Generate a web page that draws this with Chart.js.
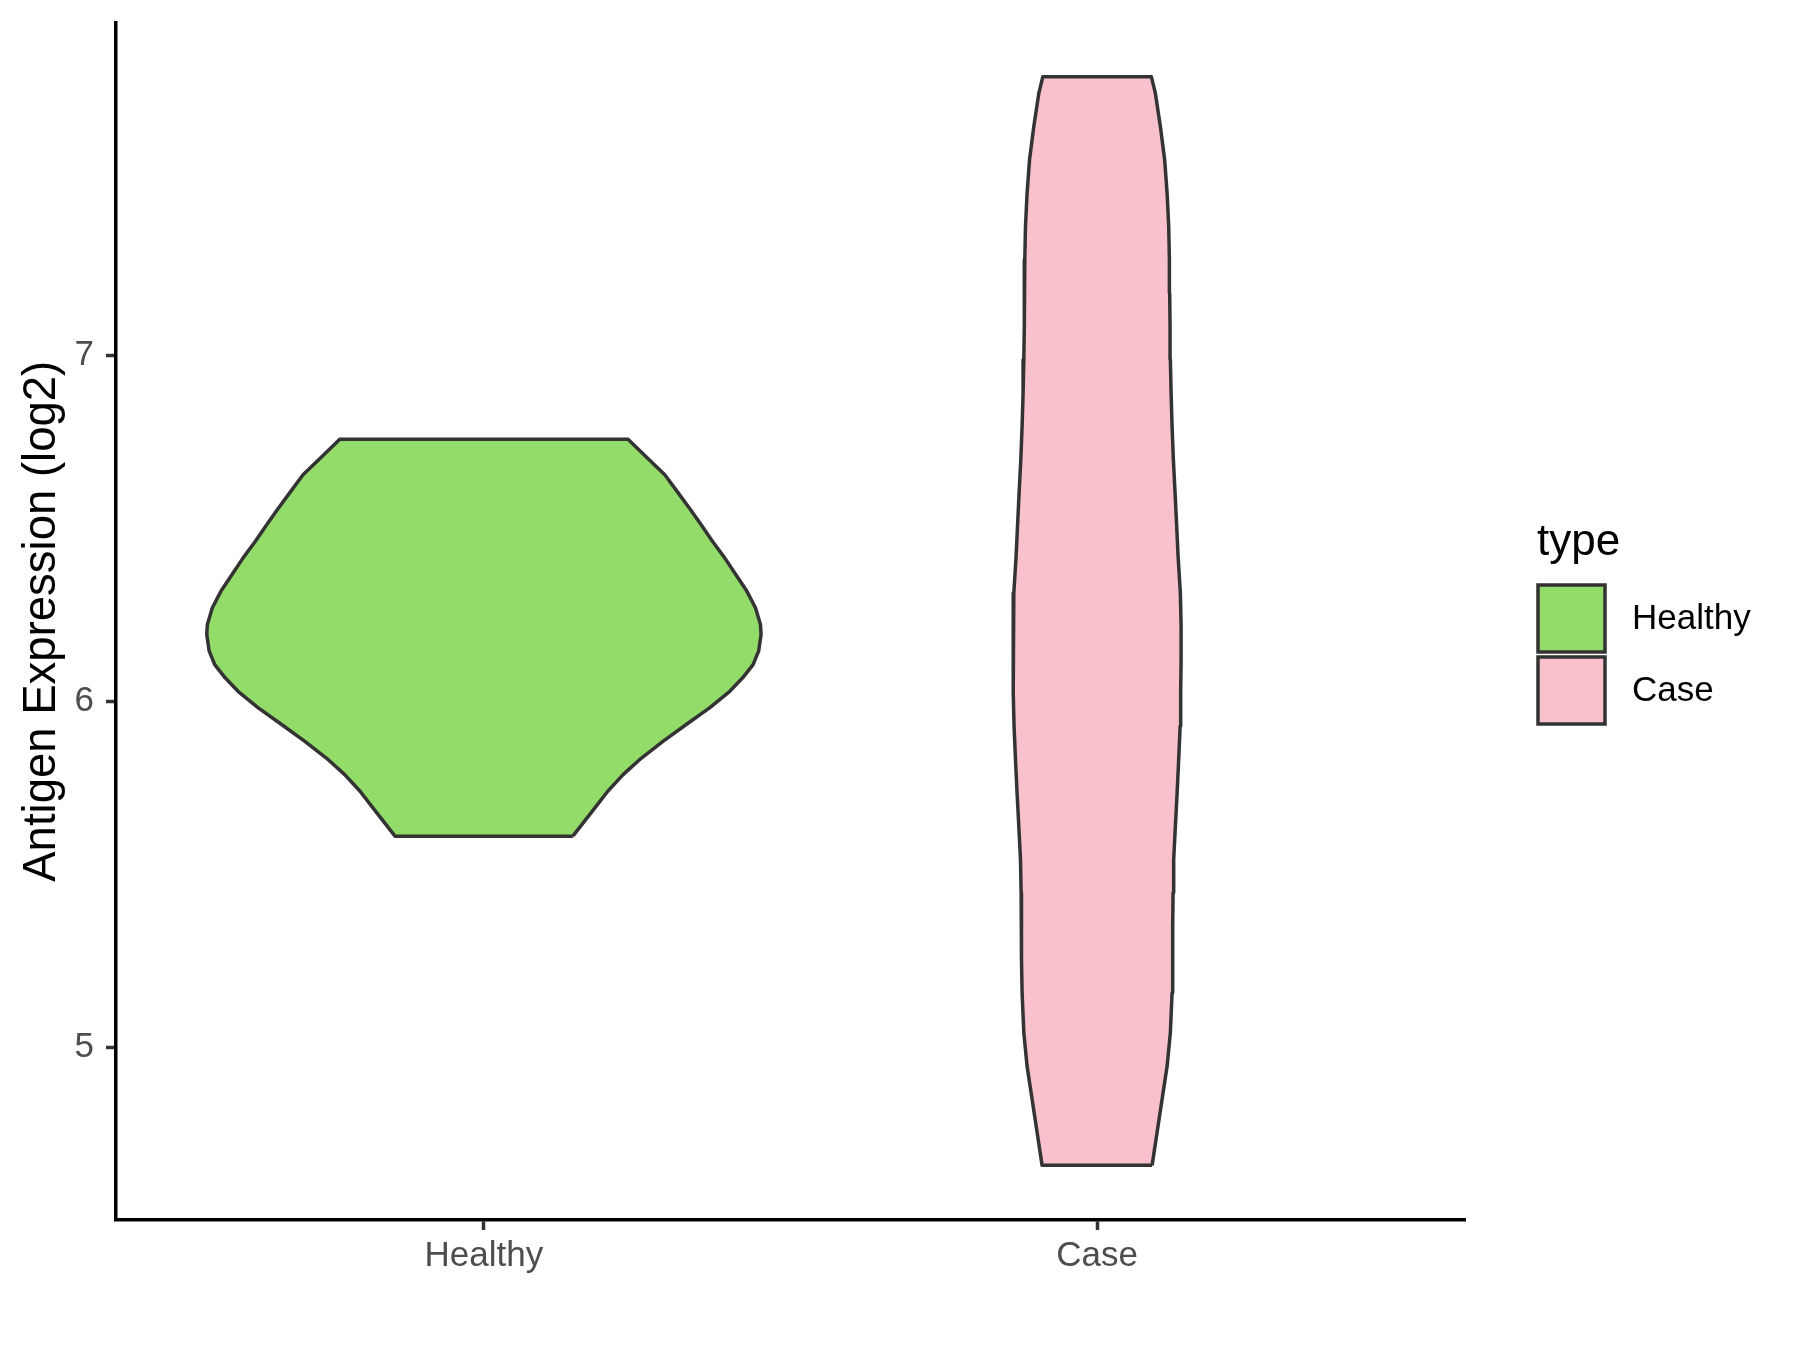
<!DOCTYPE html>
<html>
<head>
<meta charset="utf-8">
<script src="https://cdn.jsdelivr.net/npm/chart.js@4.4.1/dist/chart.umd.min.js"></script>
<style>
  html, body { margin: 0; padding: 0; background: #fff; }
  #wrap { width: 1800px; height: 1350px; }
</style>
</head>
<body>
<div id="wrap"><canvas id="chart" width="1800" height="1350"></canvas></div>
<script>
// categories on the x axis (positions 1 and 2)
const categories = ["Healthy", "Case"];
const yTicks = [5, 6, 7];

// violin outlines: expression level and half width (x units)
const healthyLevels = [5.610, 5.644, 5.692, 5.740, 5.788, 5.836, 5.884, 5.933, 5.981, 6.029, 6.068, 6.106, 6.145,
  6.193, 6.222, 6.270, 6.318, 6.366, 6.414, 6.462, 6.511, 6.559, 6.607, 6.655, 6.703, 6.758];
const healthyHalfWidth = [0.145, 0.160, 0.181, 0.202, 0.227, 0.257, 0.292, 0.330, 0.368, 0.401, 0.422, 0.439, 0.448,
  0.452, 0.451, 0.443, 0.429, 0.411, 0.393, 0.373, 0.354, 0.335, 0.315, 0.295, 0.267, 0.235];

const caseLevels = [4.658, 4.753, 4.849, 4.945, 5.042, 5.157, 5.253, 5.350, 5.446, 5.542, 5.639, 5.735, 5.832, 5.928,
  6.024, 6.121, 6.217, 6.313, 6.419, 6.506, 6.602, 6.699, 6.795, 6.891, 6.988, 7.084, 7.180, 7.277, 7.373, 7.469,
  7.566, 7.662, 7.758, 7.806];
const caseHalfWidth = [0.0897, 0.0978, 0.1060, 0.1142, 0.1195, 0.1223, 0.1233, 0.1233, 0.1239, 0.1249, 0.1277, 0.1305,
  0.1331, 0.1354, 0.1363, 0.1370, 0.1370, 0.1358, 0.1321, 0.1298, 0.1272, 0.1244, 0.1223, 0.1207, 0.1195, 0.1190,
  0.1184, 0.1179, 0.1168, 0.1142, 0.1102, 0.1032, 0.0951, 0.0886];

const fillColors = ["#93DC6A", "#F8C1CC"];
const edgeColor = "#333333";
const FONT = "'Liberation Sans', Arial, sans-serif";

// closed outline: right side bottom->top, then left side top->bottom
function outline(center, levels, halfWidth) {
  const pts = levels.map((y, i) => ({ x: center + halfWidth[i], y }));
  for (let i = levels.length - 1; i >= 0; i--) pts.push({ x: center - halfWidth[i], y: levels[i] });
  pts.push(pts[0]);
  return pts;
}

const violins = [
  outline(1, healthyLevels, healthyHalfWidth),
  outline(2, caseLevels, caseHalfWidth),
];

const legendBox = {
  id: "legendBox",
  afterDraw(chart) {
    const ctx = chart.ctx;
    ctx.save();
    ctx.fillStyle = "#000";
    ctx.font = `44px ${FONT}`;
    ctx.textAlign = "left";
    ctx.textBaseline = "alphabetic";
    ctx.fillText("type", 1537, 555);
    categories.forEach((name, i) => {
      const y = 585 + i * 72;
      ctx.fillStyle = fillColors[i];
      ctx.fillRect(1538, y, 67, 67);
      ctx.lineWidth = 3.5;
      ctx.strokeStyle = edgeColor;
      ctx.strokeRect(1538, y, 67, 67);
      ctx.fillStyle = "#000";
      ctx.font = `35px ${FONT}`;
      ctx.textBaseline = "middle";
      ctx.fillText(name, 1632, y + 34);
    });
    ctx.restore();
  },
};

new Chart(document.getElementById("chart"), {
  type: "scatter",
  data: {
    datasets: categories.map((name, i) => ({
      label: name,
      data: violins[i],
      showLine: true,
      fill: "shape",
      backgroundColor: fillColors[i],
      borderColor: edgeColor,
      borderWidth: 3.5,
      borderJoinStyle: "round",
      pointRadius: 0,
      pointHoverRadius: 0,
      tension: 0,
    })),
  },
  options: {
    responsive: false,
    animation: false,
    layout: { padding: { left: 0, top: 22.5, right: 335, bottom: 0 } },
    plugins: { legend: { display: false }, tooltip: { enabled: false } },
    scales: {
      x: {
        type: "linear",
        min: 0.4,
        max: 2.6,
        afterBuildTicks: s => { s.ticks = [{ value: 1 }, { value: 2 }]; },
        afterFit: s => { s.height = 130; s.paddingLeft = 0; s.paddingRight = 0; },
        ticks: {
          callback: v => categories[v - 1],
          font: { family: FONT, size: 35 },
          color: "#4D4D4D",
          padding: 5,
          maxRotation: 0,
        },
        grid: { drawOnChartArea: false, drawTicks: true, tickLength: 10, tickColor: edgeColor, tickWidth: 3.5 },
        border: { display: true, color: "#000", width: 3.5 },
      },
      y: {
        min: 4.5,
        max: 7.963,
        afterBuildTicks: s => { s.ticks = yTicks.map(v => ({ value: v })); },
        afterFit: s => { s.width = 116; s.paddingTop = 0; s.paddingBottom = 0; },
        ticks: {
          font: { family: FONT, size: 35 },
          color: "#4D4D4D",
          padding: 12,
        },
        grid: { drawOnChartArea: false, drawTicks: true, tickLength: 10, tickColor: edgeColor, tickWidth: 3.5 },
        border: { display: true, color: "#000", width: 3.5 },
        title: {
          display: true,
          text: "Antigen Expression (log2)",
          font: { family: FONT, size: 45.5 },
          color: "#000",
          padding: { top: 15, bottom: 0 },
        },
      },
    },
  },
  plugins: [legendBox],
});
</script>
</body>
</html>
